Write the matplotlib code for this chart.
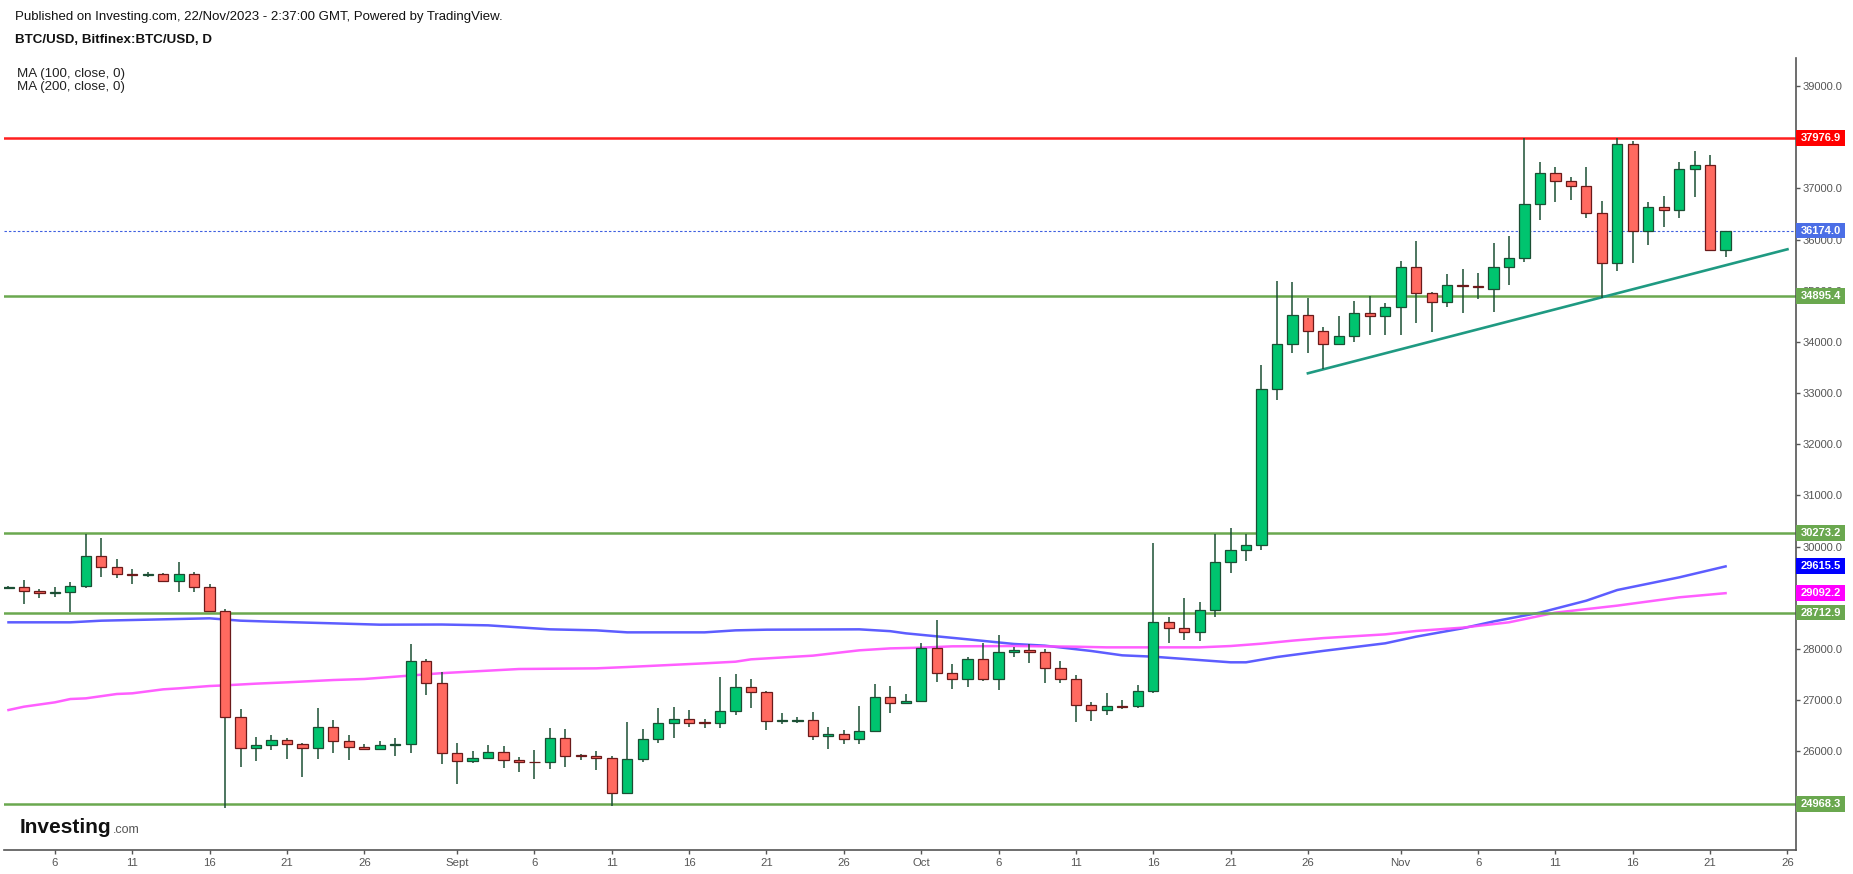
import numpy as np
import pandas as pd
import matplotlib
matplotlib.use('Agg')
import matplotlib.pyplot as plt
import matplotlib.dates as mdates
from matplotlib.patches import Rectangle

plt.rcParams['font.family'] = ['Liberation Sans', 'DejaVu Sans']

# daily BTC/USD candles, 3 Aug 2023 - 22 Nov 2023
dates = pd.date_range('2023-08-03', '2023-11-22', freq='D')

opens = [
    # Aug
    29190, 29206, 29128, 29089, 29109, 29225, 29811, 29596, 29459, 29440,
    29459, 29323, 29459, 29206, 28737, 26667, 26061, 26120, 26224, 26139,
    26061, 26471, 26198, 26081, 26042, 26120, 26139, 27761, 27331,
    # Sep
    25964, 25808, 25866, 25984, 25828, 25795, 25789, 26258, 25925, 25906,
    25866, 25183, 25847, 26238, 26551, 26629, 26570, 26551, 26785, 27254,
    27156, 26590, 26603, 26610, 26297, 26336, 26238, 26395, 27059, 26942,
    # Oct
    26979, 28014, 27526, 27422, 27799, 27422, 27936, 27975, 27936, 27624,
    27409, 26901, 26803, 26894, 26882, 27175, 28522, 28405, 28327, 28757,
    29694, 29928, 30026, 33073, 33952, 34519, 34206, 33952, 34108, 34557,
    34499,
    # Nov
    34675, 35456, 34948, 34772, 35104, 35084, 35042, 35459, 35635, 36690,
    37295, 37139, 37041, 36514, 35537, 37861, 36162, 36631, 36572, 37373,
    37451, 35791,
]
highs = [
    29230, 29349, 29166, 29206, 29310, 30247, 30169, 29752, 29557, 29505,
    29479, 29700, 29505, 29271, 28776, 26830, 26283, 26322, 26263, 26165,
    26849, 26614, 26322, 26139, 26204, 26263, 28099, 27800, 27546,
    26166, 26010, 26120, 26101, 25893, 26029, 26460, 26440, 25951, 26010,
    25906, 26577, 26440, 26851, 26870, 26812, 26636, 27455, 27514, 27416,
    27175, 26753, 26675, 26773, 26480, 26421, 26896, 27319, 27280, 27123,
    28118, 28568, 27708, 27845, 28118, 28274, 28047, 28099, 28001, 27767,
    27494, 26966, 27142, 27005, 27299, 30072, 28626, 28997, 28920, 30247,
    30364, 30247, 33548, 35189, 35169, 34857, 34284, 34505, 34798, 34896,
    34759,
    35573, 35971, 34968, 35325, 35423, 35345, 35934, 36071, 37979, 37517,
    37419, 37224, 37419, 36755, 37979, 37920, 36735, 36852, 37517, 37731,
    37653, 36174,
]
lows = [
    29170, 28886, 29004, 29024, 28729, 29186, 29414, 29394, 29278, 29414,
    29323, 29121, 29121, 28737, 24890, 25704, 25821, 26035, 25860, 25508,
    25860, 25977, 25840, 26042, 26022, 25918, 25977, 27110, 25762,
    25371, 25782, 25847, 25684, 25606, 25470, 25665, 25704, 25841, 25645,
    24942, 25163, 25801, 26173, 26271, 26486, 26466, 26466, 26720, 26857,
    26427, 26545, 26558, 26226, 26050, 26154, 26154, 26395, 26759, 26940,
    26979, 27363, 27227, 27266, 27383, 27207, 27851, 27734, 27344, 27344,
    26582, 26602, 26719, 26836, 26856, 27149, 28125, 28184, 28164, 28633,
    29492, 29726, 29941, 32871, 33789, 33789, 33463, 33932, 33991, 34140,
    34140,
    34140, 34362, 34186, 34675, 34557, 34830, 34593, 35121, 35569, 36390,
    36742, 36781, 36416, 34854, 35393, 35550, 35902, 36253, 36429, 36839,
    35791, 35667,
]
closes = [
    29205, 29128, 29089, 29109, 29225, 29811, 29596, 29459, 29440, 29459,
    29323, 29459, 29206, 28737, 26667, 26061, 26120, 26224, 26139, 26061,
    26471, 26198, 26081, 26042, 26120, 26139, 27761, 27331, 25964,
    25808, 25866, 25984, 25828, 25789, 25789, 26258, 25919, 25906, 25866,
    25183, 25847, 26238, 26551, 26629, 26564, 26551, 26785, 27254, 27156,
    26590, 26610, 26616, 26297, 26343, 26238, 26395, 27059, 26942, 26979,
    28014, 27526, 27422, 27799, 27422, 27936, 27975, 27936, 27624, 27409,
    26901, 26803, 26882, 26875, 27175, 28522, 28405, 28327, 28757, 29694,
    29928, 30026, 33073, 33952, 34519, 34206, 33952, 34108, 34557, 34499,
    34675,
    35456, 34948, 34772, 35104, 35084, 35065, 35459, 35635, 36690, 37295,
    37139, 37041, 36514, 35537, 37861, 36162, 36631, 36572, 37373, 37451,
    35791, 36174,
]

# moving averages
ma100_dates = ['2023-08-03', '2023-08-07', '2023-08-09', '2023-08-16', '2023-08-18',
               '2023-08-20', '2023-08-24', '2023-08-27', '2023-08-31', '2023-09-03',
               '2023-09-07', '2023-09-10', '2023-09-12', '2023-09-17', '2023-09-19',
               '2023-09-21', '2023-09-27', '2023-09-29', '2023-09-30', '2023-10-04',
               '2023-10-07', '2023-10-09', '2023-10-12', '2023-10-14', '2023-10-16',
               '2023-10-21', '2023-10-22', '2023-10-24', '2023-10-27', '2023-10-31',
               '2023-11-02', '2023-11-05', '2023-11-07', '2023-11-10', '2023-11-13',
               '2023-11-15', '2023-11-19', '2023-11-22']
ma100_values = [28523, 28523, 28555, 28601, 28555, 28536, 28503, 28477, 28480, 28464,
                28386, 28366, 28327, 28327, 28366, 28379, 28386, 28350, 28308, 28191,
                28100, 28067, 27963, 27878, 27852, 27742, 27742, 27845, 27965, 28113,
                28243, 28406, 28540, 28712, 28946, 29154, 29401, 29615.5]

ma200_dates = ['2023-08-03', '2023-08-04', '2023-08-06', '2023-08-07', '2023-08-08',
               '2023-08-10', '2023-08-11', '2023-08-13', '2023-08-14', '2023-08-16',
               '2023-08-17', '2023-08-19', '2023-08-21', '2023-08-24', '2023-08-26',
               '2023-08-28', '2023-08-31', '2023-09-05', '2023-09-10', '2023-09-12',
               '2023-09-17', '2023-09-19', '2023-09-20', '2023-09-24', '2023-09-27',
               '2023-09-29', '2023-10-01', '2023-10-03', '2023-10-07', '2023-10-11',
               '2023-10-13', '2023-10-19', '2023-10-21', '2023-10-23', '2023-10-25',
               '2023-10-27', '2023-10-31', '2023-11-02', '2023-11-05', '2023-11-08',
               '2023-11-11', '2023-11-15', '2023-11-19', '2023-11-22']
ma200_values = [26810, 26875, 26960, 27025, 27038, 27123, 27136, 27214, 27233, 27279,
                27292, 27325, 27351, 27396, 27416, 27461, 27530, 27611, 27624, 27650,
                27722, 27754, 27800, 27872, 27976, 28014, 28028, 28054, 28060, 28047,
                28034, 28034, 28060, 28106, 28165, 28215, 28288, 28354, 28419, 28523,
                28712, 28849, 29011, 29092.2]

# drawn lines
levels = [37976.9, 34895.4, 30273.2, 28712.9, 24968.3]
level_colors = ['#ff1f1f', '#6aa84f', '#6aa84f', '#6aa84f', '#6aa84f']
last_price = 36174.0
trend_dates = ['2023-10-26', '2023-11-26']
trend_values = [33387, 35809]

# 25000, 29000 and 38000 sit fully under the value boxes
y_ticks = [26000, 27000, 28000, 30000, 31000, 32000, 33000, 34000, 35000,
           36000, 37000, 39000]
x_tick_dates = ['2023-08-06', '2023-08-11', '2023-08-16', '2023-08-21', '2023-08-26',
                '2023-09-01', '2023-09-06', '2023-09-11', '2023-09-16', '2023-09-21',
                '2023-09-26', '2023-10-01', '2023-10-06', '2023-10-11', '2023-10-16',
                '2023-10-21', '2023-10-26', '2023-11-01', '2023-11-06', '2023-11-11',
                '2023-11-16', '2023-11-21', '2023-11-26']
x_tick_labels = ['6', '11', '16', '21', '26', 'Sept', '6', '11', '16', '21', '26',
                 'Oct', '6', '11', '16', '21', '26', 'Nov', '6', '11', '16', '21', '26']

# price boxes on the right scale
box_values = [37976.9, 36174.0, 34895.4, 30273.2, 29615.5, 29092.2, 28712.9, 24968.3]
box_colors = ['#ff0000', '#4b6ee6', '#6aa84f', '#6aa84f', '#0000ff', '#ff00ff',
              '#6aa84f', '#6aa84f']

W, H = 1853, 874
fig = plt.figure(figsize=(W / 100, H / 100), dpi=100)
ax_l, ax_r, ax_t, ax_b = 4, 1795.5, 58, 850
ax = fig.add_axes([ax_l / W, 1 - ax_b / H, (ax_r - ax_l) / W, (ax_b - ax_t) / H])

x = mdates.date2num(dates)
o = np.array(opens, dtype=float)
c = np.array(closes, dtype=float)
up = c >= o

green, green_edge = '#00c46f', '#1b4f34'
red, red_edge = '#ff6a60', '#6b1a1a'

ax.vlines(x, lows, highs, color=green_edge, lw=1.1, zorder=3)
ax.bar(x[up], (c - o)[up], bottom=o[up], width=0.66, color=green,
       edgecolor=green_edge, linewidth=0.9, zorder=4)
ax.bar(x[~up], (o - c)[~up], bottom=c[~up], width=0.66, color=red,
       edgecolor=red_edge, linewidth=0.9, zorder=4)

ax.plot(pd.to_datetime(ma100_dates), ma100_values, color='#4b4bff', lw=1.8, alpha=0.9, zorder=2)
ax.plot(pd.to_datetime(ma200_dates), ma200_values, color='#ff4dff', lw=1.8, alpha=0.9, zorder=2)

for lv, col in zip(levels, level_colors):
    ax.axhline(lv, color=col, lw=1.8, zorder=2)
ax.axhline(last_price, color='#3f5fe0', lw=0.8, dashes=(2.2, 1.8), zorder=2)
ax.plot(pd.to_datetime(trend_dates), trend_values, color='#1f9a82', lw=1.9, zorder=2)

oct1 = mdates.date2num(pd.Timestamp('2023-10-01'))
ax.set_xlim(oct1 - 59.29, oct1 + 56.52)
ax.set_ylim(24076, 39545)

ax.yaxis.tick_right()
ax.set_yticks(y_ticks)
ax.set_yticklabels([f'{v:.1f}' for v in y_ticks])
ax.set_xticks(mdates.date2num(pd.to_datetime(x_tick_dates)))
ax.set_xticklabels(x_tick_labels)
ax.tick_params(axis='y', direction='out', length=3, width=1, color='#555555',
               labelsize=8, labelcolor='#555555', pad=2)
ax.tick_params(axis='x', direction='out', length=3, width=1, color='#555555',
               labelsize=8.2, labelcolor='#555555', pad=2.5)
for s in ['left', 'top']:
    ax.spines[s].set_visible(False)
for s in ['right', 'bottom']:
    ax.spines[s].set_color('#555555')
    ax.spines[s].set_linewidth(1.2)

# coloured value boxes on the price scale
ax_w_px = ax_r - ax_l
px_per_price = (ax_b - ax_t) / (39545 - 24076)
half_h = 7.9 / px_per_price
for v, col in zip(box_values, box_colors):
    ax.add_patch(Rectangle((1.0, v - half_h), 50 / ax_w_px, 2 * half_h,
                           transform=ax.get_yaxis_transform(), facecolor=col,
                           edgecolor='none', clip_on=False, zorder=10))
    ax.text(1.0 + 5 / ax_w_px, v, f'{v:.1f}', transform=ax.get_yaxis_transform(),
            ha='left', va='center', color='white', fontsize=8, fontweight='bold',
            clip_on=False, zorder=11)

# header texts
fig.text(15 / W, 1 - 17 / H, 'Published on Investing.com, 22/Nov/2023 - 2:37:00 GMT, Powered by TradingView.',
         fontsize=9.55, color='#111111', va='center', ha='left')
fig.text(15 / W, 1 - 40 / H, 'BTC/USD, Bitfinex:BTC/USD, D',
         fontsize=9.6, fontweight='bold', color='#111111', va='center', ha='left')
fig.text(17 / W, 1 - 73.5 / H, 'MA (100, close, 0)', fontsize=9.6, color='#222222',
         va='center', ha='left')
fig.text(17 / W, 1 - 87 / H, 'MA (200, close, 0)', fontsize=9.6, color='#222222',
         va='center', ha='left')

# logo
logo = fig.text(20 / W, 1 - 833 / H, 'Investing', fontsize=15, fontweight='bold',
                color='#111111', va='baseline', ha='left')
fig.canvas.draw()
logo_end = logo.get_window_extent().x1
fig.text((logo_end + 1) / W, 1 - 833 / H, '.com', fontsize=9, color='#555555',
         va='baseline', ha='left')

fig.savefig('out.png', dpi=100, facecolor='white')
